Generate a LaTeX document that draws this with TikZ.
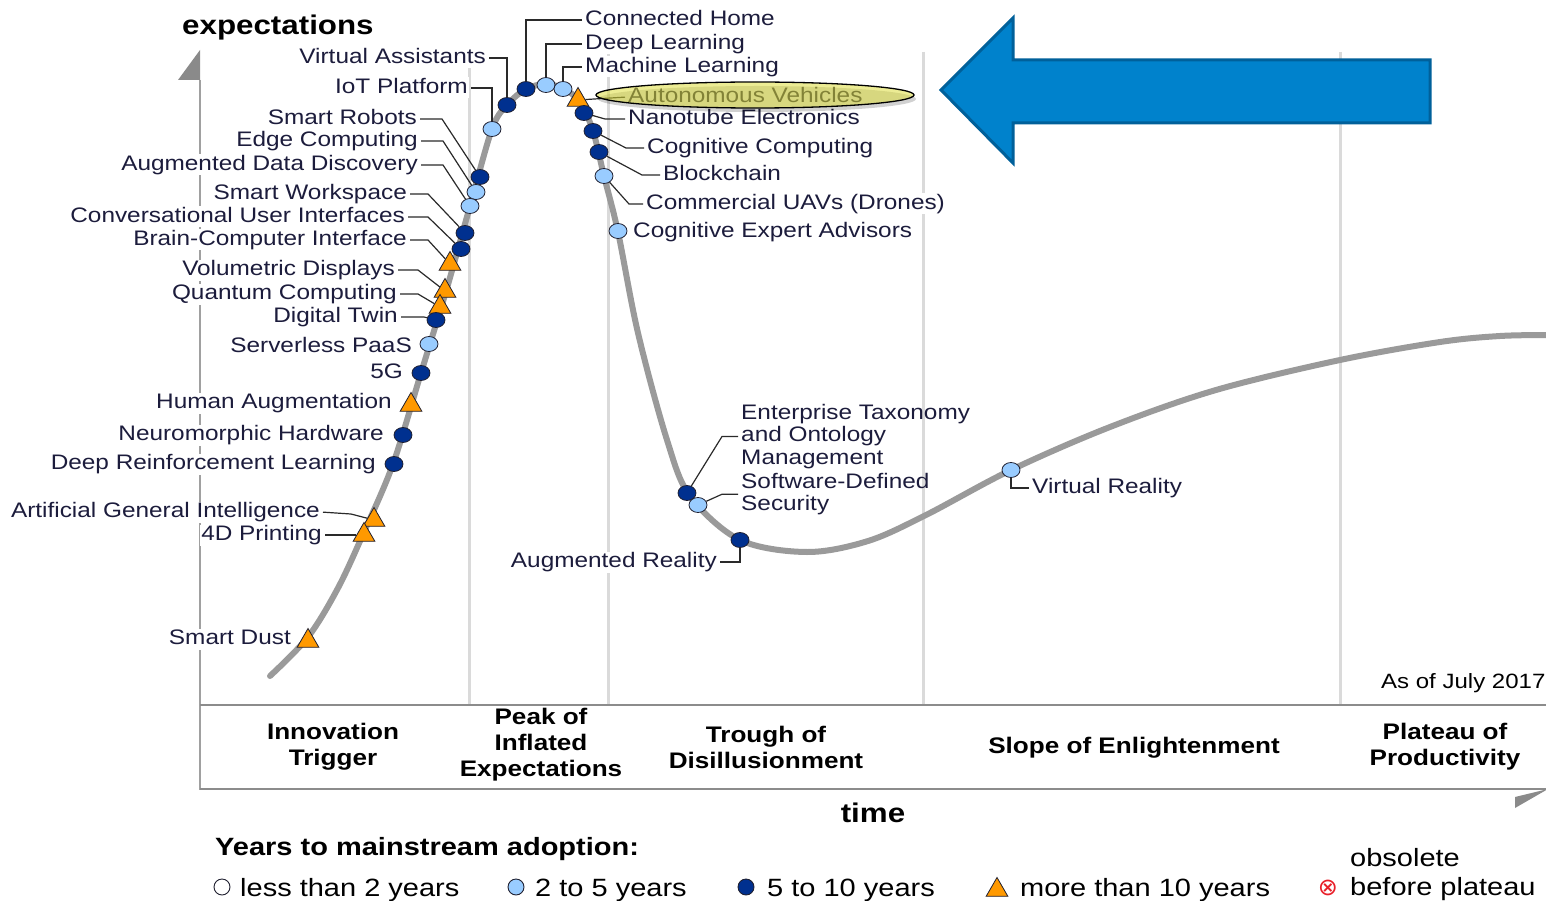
\documentclass[tikz,border=0pt]{standalone}
\usepackage{fontspec}
\setmainfont{Liberation Sans}[FakeStretch=1.16]
\newfontfamily\symfont{DejaVu Sans}
\usetikzlibrary{shapes.geometric}
\definecolor{curvegray}{HTML}{9A9A9A}
\definecolor{gridgray}{HTML}{DADADA}
\definecolor{axisgray}{HTML}{A0A0A0}
\definecolor{headgray}{HTML}{8A8A8A}
\definecolor{boxgray}{HTML}{8C8C8C}
\definecolor{labelc}{HTML}{1C1C3C}
\definecolor{leaderc}{HTML}{2A2A2A}
\definecolor{darkm}{HTML}{00308F}
\definecolor{lightm}{HTML}{99CCFF}
\definecolor{orangem}{HTML}{FF9900}
\definecolor{mk}{HTML}{202030}
\definecolor{hlyellow}{HTML}{DCDC3C}
\definecolor{arrowfill}{HTML}{0082CC}
\definecolor{arrowdraw}{HTML}{00609A}
\definecolor{obsred}{HTML}{E8202A}
\pgfdeclarelayer{back}
\pgfsetlayers{back,main}
\tikzset{
  lbl/.style={font=\fontsize{21}{22.5}\selectfont, text=labelc, fill=white, inner sep=1pt, text height=15pt, text depth=4pt},
  lblm/.style={font=\fontsize{21}{22.5}\selectfont, text=labelc, inner sep=1pt, align=left},
  dk/.style={ellipse, draw=mk, line width=0.8pt, fill=darkm, minimum width=18pt, minimum height=15pt, inner sep=0pt},
  lt/.style={ellipse, draw=mk, line width=0.8pt, fill=lightm, minimum width=18pt, minimum height=15pt, inner sep=0pt},
  tri/.style={regular polygon, regular polygon sides=3, draw=mk, line width=0.8pt, fill=orangem, minimum size=25pt, inner sep=0pt},
  leader/.style={draw=leaderc, line width=1.2pt, shorten <=2pt},
  gridl/.style={draw=gridgray, line width=3pt},
  axisl/.style={draw=axisgray, line width=2.5pt},
  boxl/.style={draw=boxgray, line width=2pt},
  curvel/.style={draw=curvegray, line width=6pt, line cap=round, line join=round},
  phase/.style={font=\bfseries\fontsize{22.5}{26}\selectfont, align=center, text=black},
  axlabel/.style={font=\bfseries\fontsize{27}{30}\selectfont, text=black},
  legtext/.style={font=\fontsize{25}{29}\selectfont, text=black, inner sep=0pt},
  legc/.style={circle, draw=mk, line width=0.9pt, minimum size=16pt, inner sep=0pt},
}
\begin{document}
\begin{tikzpicture}[x=1pt,y=-1pt]
\useasboundingbox (0,0) rectangle (1546,901);

% ---------- markers ----------
\node[dk] (mVA) at (507,105) {};
\node[lt] (mIoT) at (492,129) {};
\node[dk] (mCH) at (526,89) {};
\node[lt] (mDL) at (546,85) {};
\node[lt] (mML) at (563,89) {};
\node[tri] (mAV) at (578,100) {};
\node[dk] (mNE) at (584,113) {};
\node[dk] (mCC) at (593,131) {};
\node[dk] (mBC) at (599,152) {};
\node[lt] (mUAV) at (604,176) {};
\node[lt] (mCEA) at (618,231) {};
\node[dk] (mSR) at (480,177) {};
\node[lt] (mEC) at (476,192) {};
\node[lt] (mADD) at (470,206) {};
\node[dk] (mSW) at (465,233) {};
\node[dk] (mCUI) at (461,249) {};
\node[tri] (mBCI) at (450,264) {};
\node[tri] (mVD) at (445,291) {};
\node[tri] (mQC) at (440,307) {};
\node[dk] (mDT) at (436,320) {};
\node[lt] (mSP) at (429,344) {};
\node[dk] (mG5) at (421,373) {};
\node[tri] (mHA) at (411,405) {};
\node[dk] (mNH) at (403,435) {};
\node[dk] (mDRL) at (394,464) {};
\node[tri] (mAGI) at (374,520) {};
\node[tri] (mFD) at (364,535) {};
\node[tri] (mSD) at (308,641) {};
\node[dk] (mET) at (687,493) {};
\node[lt] (mSDS) at (698,505) {};
\node[dk] (mAR) at (740,540) {};
\node[lt] (mVR) at (1011,470) {};

\begin{pgfonlayer}{back}
% grid lines
\foreach \gx in {469,608,923,1340} \draw[gridl] (\gx,52) -- (\gx,705);
% axes and phase box
\coordinate (ytop) at (200,80);
\coordinate (origin) at (200,789);
\coordinate (xend) at (1546,789);
\draw[axisl] (ytop) -- (origin) -- (xend);
\draw[boxl] (200,705) -- (1546,705);
\draw[boxl] (200,789) -- (1546,789);
\fill[headgray] (200,50) -- (178,80) -- (200,80) -- cycle;
\fill[headgray] (1515,797) -- (1515,808) -- (1548,789) -- cycle;
% hype curve
\draw[curvel] plot[smooth, tension=0.55] coordinates {(270,676) (308,637) (338,588) (364,532) (393,464) (421,373) (447,288) (470,206) (492,129) (507,105) (526,89) (546,84) (564,89) (580,102) (593,131) (604,176) (618,232) (638,333) (667,440) (690,496) (740,540) (807,552) (868,541) (926,515) (1011,470) (1110,427) (1216,390) (1340,360) (1440,342) (1500,336) (1550,335)};

% labels
\node[lbl, anchor=east] (VA) at (487,58) {Virtual Assistants};
\node[lbl, anchor=east] (IoT) at (469,88) {IoT Platform};
\node[lbl, anchor=west] (CH) at (584,20) {Connected Home};
\node[lbl, anchor=west] (DL) at (584,44) {Deep Learning};
\node[lbl, anchor=west] (ML) at (584,67) {Machine Learning};
\node[lbl, anchor=west, fill=none] (AV) at (627,97) {Autonomous Vehicles};
\node[lbl, anchor=west] (NE) at (627,119) {Nanotube Electronics};
\node[lbl, anchor=west] (CC) at (646,148) {Cognitive Computing};
\node[lbl, anchor=west] (BC) at (662,175) {Blockchain};
\node[lbl, anchor=west] (UAV) at (645,204) {Commercial UAVs (Drones)};
\node[lbl, anchor=west] (CEA) at (632,232) {Cognitive Expert Advisors};
\node[lbl, anchor=east] (SR) at (418,119) {Smart Robots};
\node[lbl, anchor=east] (EC) at (419,141) {Edge Computing};
\node[lbl, anchor=east] (ADD) at (419,165) {Augmented Data Discovery};
\node[lbl, anchor=east] (SW) at (408,194) {Smart Workspace};
\node[lbl, anchor=east] (CUI) at (406,217) {Conversational User Interfaces};
\node[lbl, anchor=east] (BCI) at (408,240) {Brain-Computer Interface};
\node[lbl, anchor=east] (VD) at (396,270) {Volumetric Displays};
\node[lbl, anchor=east] (QC) at (398,294) {Quantum Computing};
\node[lbl, anchor=east] (DT) at (399,317) {Digital Twin};
\node[lbl, anchor=east] (SP) at (413,347) {Serverless PaaS};
\node[lbl, anchor=east] (G5) at (404,373) {5G};
\node[lbl, anchor=east] (HA) at (393,403) {Human Augmentation};
\node[lbl, anchor=east] (NH) at (385,435) {Neuromorphic Hardware};
\node[lbl, anchor=east] (DRL) at (377,464) {Deep Reinforcement Learning};
\node[lbl, anchor=east] (AGI) at (321,512) {Artificial General Intelligence};
\node[lbl, anchor=east] (FD) at (323,535) {4D Printing};
\node[lbl, anchor=east] (SD) at (292,639) {Smart Dust};
\node[lblm, anchor=north west] (ET) at (740,403) {Enterprise Taxonomy\\and Ontology\\Management};
\node[lblm, anchor=north west] (SDS) at (740,472) {Software-Defined\\Security};
\node[lbl, anchor=east] (AR) at (718,562) {Augmented Reality};
\node[lbl, anchor=west] (VR) at (1031,488) {Virtual Reality};

% leaders
\draw[leader] (VA.east) -| (mVA);
\draw[leader] (IoT.east) -| (mIoT);
\draw[leader] (CH.west) -| (mCH);
\draw[leader] (DL.west) -| (mDL);
\draw[leader] (ML.west) -| (mML);
\draw[leader] (AV.west) -- (mAV);
\draw[leader] (NE.west) -- ++(-22,0) -- (mNE);
\draw[leader] (CC.west) -- ++(-20,0) -- (mCC);
\draw[leader] (BC.west) -- ++(-20,0) -- (mBC);
\draw[leader] (UAV.west) -- ++(-16,0) -- (mUAV);
\draw[leader] (SR.east) -- ++(24,0) -- (mSR);
\draw[leader] (EC.east) -- ++(24,0) -- (mEC);
\draw[leader] (ADD.east) -- ++(24,0) -- (mADD);
\draw[leader] (SW.east) -- ++(20,0) -- (mSW);
\draw[leader] (CUI.east) -- ++(22,0) -- (mCUI);
\draw[leader] (BCI.east) -- ++(20,0) -- (mBCI);
\draw[leader] (VD.east) -- ++(22,0) -- (mVD);
\draw[leader] (QC.east) -- ++(20,0) -- (mQC);
\draw[leader] (DT.east) -- ++(25,0) -- (mDT);
\draw[leader] (AGI.east) -- ++(30,2) -- (mAGI);
\draw[leader] (FD.east) -- ++(28,0) -- (mFD);
\draw[leader] (ET.west) -- ++(-18,0) -- (mET);
\draw[leader] (SDS.west) -- ++(-18,0) -- (mSDS);
\draw[leader] (AR.east) -| (mAR);
\draw[leader] (VR.west) -| (mVR);
\end{pgfonlayer}

% highlight ellipse round "Autonomous Vehicles"
\node[ellipse, fill=black, opacity=0.18, minimum width=318pt, minimum height=26pt] (hlshadow) at (757,99) {};
\node[ellipse, draw=black, line width=1.3pt, fill=hlyellow, fill opacity=0.55, minimum width=318pt, minimum height=26pt] (hl) at (755,95) {};

% big blue arrow
\draw[fill=arrowfill, draw=arrowdraw, line width=3pt, line join=miter]
  (941,90) -- (1013,18) -- (1013,60) -- (1430,60) -- (1430,123) -- (1013,123) -- (1013,163) -- cycle;

% axis labels
\node[axlabel, anchor=west, inner sep=0pt] (ylab) at (182,28) {expectations};
\node[axlabel, inner sep=0pt] (xlab) at (873,813) {time};
\node[font=\fontsize{20.7}{24}\selectfont, anchor=west, inner sep=0pt, text=black] (asof) at (1381,683) {As of July 2017};

% phase names
\node[phase] (ph1) at (333,747) {Innovation\\Trigger};
\node[phase] (ph2) at (541,745) {Peak of\\Inflated\\Expectations};
\node[phase] (ph3) at (766,747) {Trough of\\Disillusionment};
\node[phase] (ph4) at (1134,748) {Slope of Enlightenment};
\node[phase] (ph5) at (1445,747) {Plateau of\\Productivity};

% legend
\node[font=\bfseries\fontsize{25}{29}\selectfont, anchor=base west, inner sep=0pt] (legt) at (215,855) {Years to mainstream adoption:};
\node[legc, fill=white] (l1) at (222,887) {};
\node[legtext, anchor=base west] (l1t) at (240,896) {less than 2 years};
\node[legc, fill=lightm] (l2) at (516,887) {};
\node[legtext, anchor=base west] (l2t) at (535,896) {2 to 5 years};
\node[legc, fill=darkm] (l3) at (746,887) {};
\node[legtext, anchor=base west] (l3t) at (767,896) {5 to 10 years};
\node[tri, minimum size=25pt] (l4) at (997,890) {};
\node[legtext, anchor=base west] (l4t) at (1020,896) {more than 10 years};
\node[font=\symfont\fontsize{24}{24}\selectfont, text=obsred, inner sep=0pt] (l5) at (1328,888) {⊗};
\node[legtext, anchor=base west] (l5a) at (1350,866) {obsolete};
\node[legtext, anchor=base west] (l5t) at (1350,895) {before plateau};
\end{tikzpicture}
\end{document}
